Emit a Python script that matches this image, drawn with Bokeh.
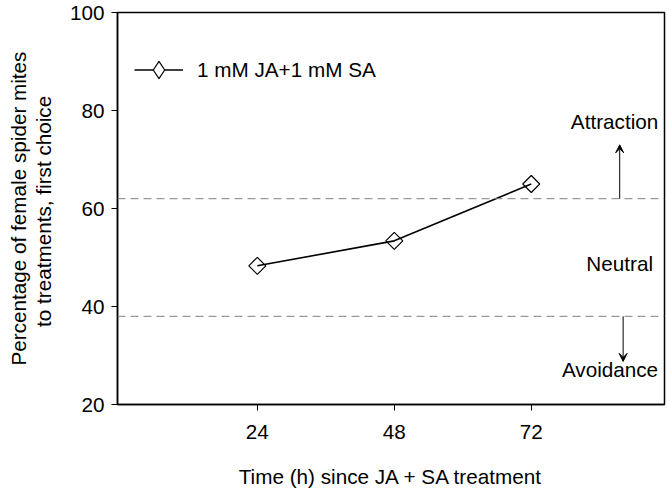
import numpy as np
from bokeh.plotting import figure
from bokeh.models import (Range1d, FixedTicker, Span, Arrow, VeeHead, Label,
                          Legend, LegendItem)
from bokeh.embed import file_html
from bokeh.resources import INLINE

# ---- data ----
times = [24, 48, 72]
pct = [48.3, 53.4, 65.0]
series_name = "1 mM JA+1 mM SA"
x_ticks = [24, 48, 72]
y_ticks = [20, 40, 60, 80, 100]
upper_threshold = 62
lower_threshold = 38
zone_labels = ["Attraction", "Neutral", "Avoidance"]

FONT = "Liberation Sans"
FS = "20.7px"

p = figure(width=668, height=490, output_backend="svg", toolbar_location=None,
           x_range=Range1d(-0.5, 95.35), y_range=Range1d(20, 100),
           min_border_left=117, min_border_right=4, min_border_top=12,
           min_border_bottom=86)

p.xgrid.visible = False
p.ygrid.visible = False
p.background_fill_color = "white"
p.border_fill_color = "white"
p.outline_line_color = "black"
p.outline_line_width = 1.5

for ax in (p.xaxis[0], p.yaxis[0]):
    ax.axis_line_color = "black"
    ax.axis_line_width = 1.5
    ax.major_tick_line_color = "black"
    ax.major_tick_line_width = 1
    ax.major_tick_in = 0
    ax.major_tick_out = 6
    ax.minor_tick_line_color = None
    ax.major_label_text_font = FONT
    ax.major_label_text_font_size = FS
    ax.major_label_text_color = "black"
    ax.axis_label_text_font = FONT
    ax.axis_label_text_font_size = FS
    ax.axis_label_text_font_style = "normal"
    ax.axis_label_text_color = "black"

p.xaxis.ticker = FixedTicker(ticks=x_ticks)
p.yaxis.ticker = FixedTicker(ticks=y_ticks)
p.xaxis.major_label_standoff = 14
p.yaxis.major_label_standoff = 7
p.xaxis.axis_label = "Time (h) since JA + SA treatment"
p.yaxis.axis_label = "Percentage of female spider mites\nto  treatments, first choice"
p.yaxis.axis_label_text_line_height = 1.1
p.xaxis.axis_label_standoff = 23
p.yaxis.axis_label_standoff = 12

# threshold lines
for t in (upper_threshold, lower_threshold):
    p.add_layout(Span(location=t, dimension="width", line_color="#808080",
                      line_width=1, line_dash="8 5"))

# data
line_r = p.line(times, pct, line_color="black", line_width=1.6)
p.scatter(times, pct, marker="square", angle=np.pi / 4, size=12,
          fill_alpha=0, line_color="black", line_width=1.2)
legend_marker = p.scatter([np.nan], [np.nan], marker="diamond", size=17,
                          fill_color="white", line_color="black", line_width=1.2)

legend = Legend(items=[LegendItem(label=series_name,
                                  renderers=[line_r, legend_marker])],
                location=(17, 313), padding=0, margin=0,
                border_line_alpha=0, background_fill_alpha=0,
                glyph_width=49, glyph_height=43, label_standoff=14,
                label_text_font=FONT, label_text_font_size=FS,
                label_text_color="black")
p.add_layout(legend)

# arrows
p.add_layout(Arrow(end=VeeHead(size=8, fill_color="black", line_color="black", line_width=1),
                   x_start=87.5, y_start=upper_threshold, x_end=87.5, y_end=73,
                   line_color="black", line_width=1))
p.add_layout(Arrow(end=VeeHead(size=8, fill_color="black", line_color="black", line_width=1),
                   x_start=88.1, y_start=lower_threshold, x_end=88.1, y_end=28.8,
                   line_color="black", line_width=1))

# zone labels
for (lx, ly), txt in zip([(86.6, 77.8), (87.5, 48.8), (85.8, 27.2)], zone_labels):
    p.add_layout(Label(x=lx, y=ly, text=txt, text_align="center",
                       text_baseline="middle", text_font=FONT,
                       text_font_size=FS, text_color="black"))

open("out.html", "w").write(file_html(p, INLINE))
